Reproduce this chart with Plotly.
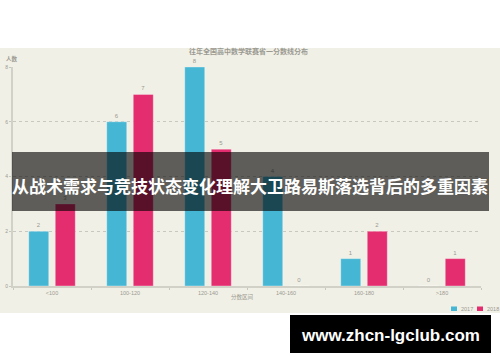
import plotly.graph_objects as go

categories = ["<100", "100-120", "120-140", "140-160", "160-180", ">180"]
series_names = ["2017", "2018"]
values_2017 = [2, 6, 8, 4, 1, 0]
values_2018 = [3, 7, 5, 0, 2, 1]
series_colors = ["#45b6d4", "#e42d6e"]
y_ticks = [0, 2, 4, 6, 8]
chart_title = "往年全国高中数学联赛省一分数线分布"
y_title = "人数"
x_title = "分数区间"
banner_text = "从战术需求与竞技状态变化理解大卫路易斯落选背后的多重因素"
url_text = "www.zhcn-lgclub.com"

W, H = 500, 362
ML, MR, MT, MB = 13, 19, 67, 76
PW = W - ML - MR
PH = H - MT - MB


def px(x):
    return (x - ML) / PW


def py(y):
    return (H - MB - y) / PH


BEIGE = "#f1f0e6"
GRAY_TXT = "#9a9a92"
CJK = "Noto Sans CJK SC"

fig = go.Figure()
for name, vals, col in zip(series_names, [values_2017, values_2018], series_colors):
    fig.add_trace(go.Bar(
        x=categories, y=vals, name=name,
        marker=dict(color=col, line=dict(color="rgba(255,255,255,0.35)", width=1)),
        text=[str(v) for v in vals], textposition="outside",
        textfont=dict(size=6, color=GRAY_TXT, family="Liberation Sans"),
        cliponaxis=False, showlegend=False,
    ))

shapes = [
    dict(type="rect", xref="paper", yref="paper", x0=px(0), x1=px(W), y0=py(313), y1=py(48),
         fillcolor=BEIGE, line=dict(width=0), layer="below"),
    dict(type="rect", xref="paper", yref="paper", x0=px(12), x1=px(489), y0=py(211), y1=py(152),
         fillcolor="rgba(0,0,0,0.61)", line=dict(width=0), layer="above"),
    dict(type="rect", xref="paper", yref="paper", x0=px(290), x1=px(491), y0=py(353), y1=py(315),
         fillcolor="#000000", line=dict(width=0), layer="above"),
]

annotations = [
    dict(text="<b>" + chart_title + "</b>", x=px(248), y=py(51), xref="paper", yref="paper",
         showarrow=False, font=dict(size=7, color=GRAY_TXT, family=CJK), xanchor="center", yanchor="middle"),
    dict(text="<b>" + y_title + "</b>", x=px(12), y=py(59), xref="paper", yref="paper",
         showarrow=False, font=dict(size=5.5, color=GRAY_TXT, family=CJK), xanchor="center", yanchor="middle"),
    dict(text=x_title, x=px(242), y=py(297), xref="paper", yref="paper",
         showarrow=False, font=dict(size=5.5, color=GRAY_TXT, family=CJK), xanchor="center", yanchor="middle"),
    dict(text="<b>" + banner_text + "</b>", x=px(250), y=py(185), xref="paper", yref="paper",
         showarrow=False, font=dict(size=17, color="#ffffff", family=CJK), xanchor="center", yanchor="middle"),
    dict(text="<b>" + url_text + "</b>", x=px(390), y=py(335), xref="paper", yref="paper",
         showarrow=False, font=dict(size=17, color="#ffffff", family="Liberation Sans"), xanchor="center", yanchor="middle"),
]

# manual compact legend built from series names/colors
leg_x = 451
for name, col in zip(series_names, series_colors):
    shapes.append(dict(type="rect", xref="paper", yref="paper", x0=px(leg_x), x1=px(leg_x + 6),
                       y0=py(311), y1=py(306.5), fillcolor=col, line=dict(width=0), layer="above"))
    annotations.append(dict(text=name, x=px(leg_x + 8), y=py(308.7), xref="paper", yref="paper",
                            showarrow=False, font=dict(size=5.5, color=GRAY_TXT, family="Liberation Sans"),
                            xanchor="left", yanchor="middle"))
    leg_x += 26

fig.update_layout(
    width=W, height=H,
    margin=dict(l=ML, r=MR, t=MT, b=MB, pad=0),
    paper_bgcolor="#ffffff", plot_bgcolor=BEIGE,
    barmode="group", bargap=0.32, bargroupgap=0.245,
    showlegend=False,
    shapes=shapes, annotations=annotations,
    xaxis=dict(
        type="category", showline=True, linecolor="#d2d1c8", linewidth=2,
        ticks="outside", tickson="boundaries", ticklen=2, tickcolor="#c8c7be",
        tickfont=dict(size=5.5, color=GRAY_TXT, family="Liberation Sans"),
        showgrid=False, zeroline=False, fixedrange=True, automargin=False,
    ),
    yaxis=dict(
        range=[0, 8], tickvals=y_ticks, showline=True, linecolor="#d2d1c8", linewidth=2,
        ticks="outside", ticklen=2, tickcolor="#c8c7be",
        tickfont=dict(size=5, color=GRAY_TXT, family="Liberation Sans"),
        showgrid=True, gridcolor="#c9c8c0", griddash="dot", gridwidth=1,
        zeroline=False, automargin=False,
    ),
)

fig.write_html("out.html")
